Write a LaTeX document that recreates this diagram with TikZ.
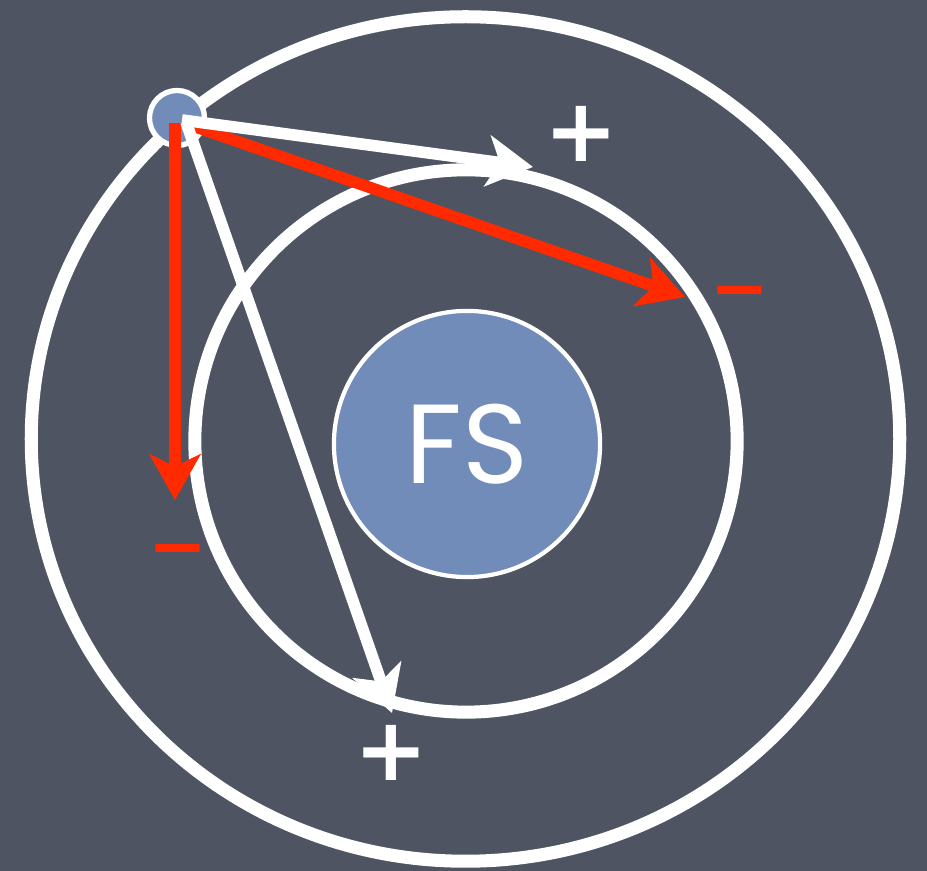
\documentclass[tikz,border=0pt]{standalone}
\usepackage{fontspec}
\setmainfont{Poppins}
\newfontfamily\signfont{DejaVu Sans}
\usetikzlibrary{arrows.meta}
\definecolor{bgSlate}{HTML}{4E5462}
\definecolor{fsBlue}{HTML}{728CBA}
\definecolor{hotRed}{HTML}{FF2A00}

\begin{document}
\begin{tikzpicture}[
      x=0.01cm,y=-0.01cm,
      ring/.style={draw=white,line width=3.7pt},
      wa/.style={-{Stealth[length=13pt,width=14.5pt,inset=3.5pt]},draw=white,line width=3.3pt},
      ra/.style={wa,draw=hotRed},
      sgn/.style={font=\signfont\bfseries\fontsize{25}{25}\selectfont,inner sep=0pt,anchor=base},
      neg/.style={sgn,font=\signfont\bfseries\fontsize{20}{20}\selectfont,text=hotRed}
    ]
    \fill[bgSlate] (0,0) rectangle (927,871);
    \useasboundingbox (0,0) rectangle (927,871);

    % the two orbits round the field source
    \draw[ring] (465.5,439) ellipse [x radius=4.34cm,y radius=4.22cm];
    \draw[ring] (466,441) circle [radius=2.71cm];

    \node[circle,draw=white,line width=1.2pt,fill=fsBlue,minimum size=2.66cm,
          text=white,font=\fontsize{32}{32}\selectfont] (fs) at (467,444) {FS};
    \node[circle,draw=white,line width=1.5pt,fill=fsBlue,minimum size=0.55cm] (src) at (177,118) {};

    \coordinate (sRD) at (175,123);
    \coordinate (sRR) at (193,126);
    \coordinate (sWT) at (182,120);
    \coordinate (sWB) at (186,122);
    \coordinate (tipMinusLeft)  at (175,500);
    \coordinate (tipMinusRight) at (685,297);
    \coordinate (tipPlusTop)    at (533,167);
    \coordinate (tipPlusBottom) at (392,713);

    \draw[ra] (sRD) -- (tipMinusLeft);
    \draw[ra] (sRR) -- (tipMinusRight);
    \draw[wa] (sWT) -- (tipPlusTop);
    \draw[wa] (sWB) -- (tipPlusBottom);

    \node[sgn,text=white] (plusTop)    at (581,162) {+};
    \node[sgn,text=white] (plusBottom) at (391,781) {+};
    \node[neg] (minusRight) at (740,313) {−};
    \node[neg] (minusLeft)  at (178,571) {−};
\end{tikzpicture}
\end{document}
